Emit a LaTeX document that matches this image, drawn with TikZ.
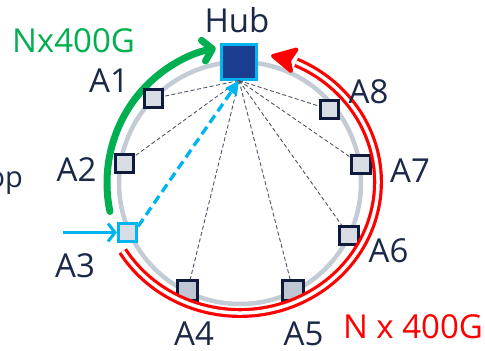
\documentclass[tikz,border=0pt]{standalone}
\usepackage{fontspec}
\setmainfont{Open Sans}
\usetikzlibrary{arrows.meta}

\definecolor{ringgray}{HTML}{C3CBD5}
\definecolor{navytext}{HTML}{1B2848}
\definecolor{nodeedge}{HTML}{0F1B3D}
\definecolor{nodefill}{HTML}{D8DDE5}
\definecolor{nodefilldark}{HTML}{BDC6D2}
\definecolor{hubfill}{HTML}{1A3D8F}
\definecolor{cyanline}{HTML}{00B4F0}
\definecolor{ngreen}{HTML}{00B050}
\definecolor{nred}{HTML}{FF0000}
\definecolor{spoke}{HTML}{4D5566}

\tikzset{
  lbl/.style={anchor=base, inner sep=0pt, text=navytext, font=\fontsize{33}{40}\selectfont},
  site/.style={draw=nodeedge, line width=2.7pt, fill=nodefill, minimum size=18.5pt, inner sep=0pt},
  sitebig/.style={site, fill=nodefilldark, minimum size=20.5pt},
  hubbox/.style={draw=cyanline, line width=3pt, fill=hubfill, minimum size=35pt, inner sep=0pt},
  spokeline/.style={draw=spoke, line width=0.9pt, dash pattern=on 4pt off 2.5pt},
}

\begin{document}
\begin{tikzpicture}[x=1pt,y=1pt]
\useasboundingbox (0,0) rectangle (485,-351);

% ring
\coordinate (rc) at (240,-183);
\draw[ringgray, line width=4.5pt] (rc) circle[radius=121pt];

% green Nx400G arc
\coordinate (gc) at (240,-183);
\draw[ngreen, line width=7pt, line cap=round,
      -{Straight Barb[length=9pt,width=21pt,round]}]
  ([shift={(192:133pt and 137pt)}]gc) arc[start angle=192, end angle=100.5, x radius=133pt, y radius=137pt];

% nodes
\node[hubbox] (hub) at (239,-61.5) {};
\node[site] (A1) at (153.5,-98.5) {};
\node[site] (A2) at (124.5,-163.5) {};
\node[site, draw=cyanline] (A3) at (127.5,-232.5) {};
\node[sitebig] (A4) at (187.5,-290.5) {};
\node[sitebig] (A5) at (293,-290.5) {};
\node[site] (A6) at (349,-235.5) {};
\node[site] (A7) at (361,-164.5) {};
\node[site] (A8) at (329.5,-109.5) {};

% spokes from the hub
\foreach \n in {A1,A2,A4,A5,A6,A7,A8}
  \draw[spokeline] (hub.south) -- (\n);

% traffic from A3 towards the hub
\draw[cyanline, line width=3.3pt, dash pattern=on 9pt off 5pt,
      -{Triangle[length=14pt,width=13pt]}] (A3.30) -- (hub.south);
\coordinate (in3) at (63,-232.5);
\draw[cyanline, line width=3pt, -{Straight Barb[length=7pt,width=18pt]}] (in3) -- (A3);

% red N x 400G double arc with its head
\coordinate (redc) at (240,-182);
\draw[nred, line width=3.2pt, double=white, double distance=3.5pt]
  ([shift={(211.8:138pt and 131pt)}]redc) arc[start angle=211.8, end angle=426, x radius=138pt, y radius=131pt];
\filldraw[nred, line width=4pt, line join=round]
  (273,-56) -- (296.5,-49.5) -- (289,-60.5) -- (291,-71) -- cycle;

% labels
\node[lbl] (lhub) at (237,-32) {Hub};
\node[lbl] (lA1) at (109,-92) {A1};
\node[lbl] (lA2) at (76.5,-181) {A2};
\node[lbl] (lA3) at (75,-277) {A3};
\node[lbl] (lA4) at (194,-345) {A4};
\node[lbl] (lA5) at (303.5,-345) {A5};
\node[lbl] (lA6) at (388.5,-262) {A6};
\node[lbl] (lA7) at (410,-182) {A7};
\node[lbl] (lA8) at (368.5,-103) {A8};
\node[lbl, text=ngreen] (lgreen) at (73.5,-52) {Nx400G};
\node[lbl, text=nred] (lred) at (413,-338) {N x 400G};
\node[lbl, anchor=base east, font=\fontsize{29}{35}\selectfont] (lop) at (23,-187) {op};
\end{tikzpicture}
\end{document}
